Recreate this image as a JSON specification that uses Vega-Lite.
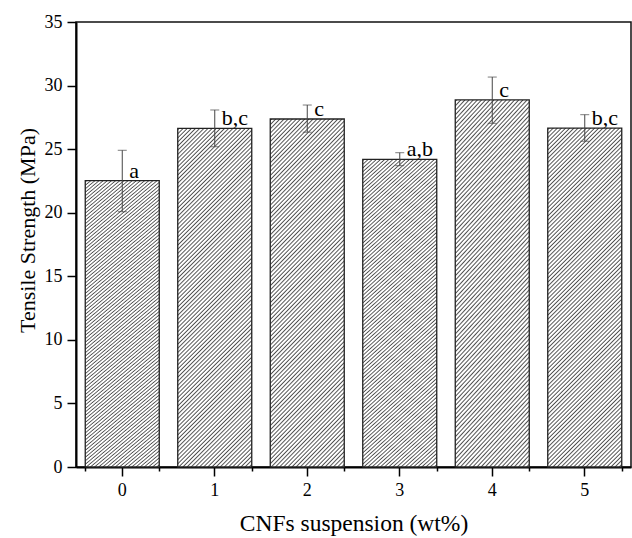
{
 "$schema": "https://vega.github.io/schema/vega-lite/v6.json",
 "width": 555, "height": 445,
 "autosize": {"type": "none"},
 "padding": {"left": 76, "top": 22, "right": 1, "bottom": 71},
 "config": {
  "view": {"stroke": "#111", "strokeWidth": 1.5},
  "axis": {"grid": false, "labelColor": "#000", "titleColor": "#000", "tickColor": "#000", "domainColor": "#000", "titleFontWeight": "normal"}
 },
 "data": {"values": [
  {"conc": "0", "mean": 22.52, "lo": 20.08, "hi": 24.91, "letter": "a"},
  {"conc": "1", "mean": 26.64, "lo": 25.19, "hi": 28.08, "letter": "b,c"},
  {"conc": "2", "mean": 27.37, "lo": 26.33, "hi": 28.47, "letter": "c"},
  {"conc": "3", "mean": 24.2, "lo": 23.7, "hi": 24.72, "letter": "a,b"},
  {"conc": "4", "mean": 28.87, "lo": 27.03, "hi": 30.67, "letter": "c"},
  {"conc": "5", "mean": 26.66, "lo": 25.62, "hi": 27.71, "letter": "b,c"}
 ]},
 "layer": [
  {
   "mark": {"type": "bar", "stroke": "#222", "strokeWidth": 1.3,
    "fill": {"gradient": "linear", "x1": 0, "y1": 0, "x2": 0.253, "y2": 1.163, "stops": [
{"offset":0,"color":"#fff"},{"offset":0.0035,"color":"#505050"},{"offset":0.0065,"color":"#fff"},
{"offset":0.01,"color":"#fff"},{"offset":0.0135,"color":"#505050"},{"offset":0.0165,"color":"#fff"},
{"offset":0.02,"color":"#fff"},{"offset":0.0235,"color":"#505050"},{"offset":0.0265,"color":"#fff"},
{"offset":0.03,"color":"#fff"},{"offset":0.0335,"color":"#505050"},{"offset":0.0365,"color":"#fff"},
{"offset":0.04,"color":"#fff"},{"offset":0.0435,"color":"#505050"},{"offset":0.0465,"color":"#fff"},
{"offset":0.05,"color":"#fff"},{"offset":0.0535,"color":"#505050"},{"offset":0.0565,"color":"#fff"},
{"offset":0.06,"color":"#fff"},{"offset":0.0635,"color":"#505050"},{"offset":0.0665,"color":"#fff"},
{"offset":0.07,"color":"#fff"},{"offset":0.0735,"color":"#505050"},{"offset":0.0765,"color":"#fff"},
{"offset":0.08,"color":"#fff"},{"offset":0.0835,"color":"#505050"},{"offset":0.0865,"color":"#fff"},
{"offset":0.09,"color":"#fff"},{"offset":0.0935,"color":"#505050"},{"offset":0.0965,"color":"#fff"},
{"offset":0.10,"color":"#fff"},{"offset":0.1035,"color":"#505050"},{"offset":0.1065,"color":"#fff"},
{"offset":0.11,"color":"#fff"},{"offset":0.1135,"color":"#505050"},{"offset":0.1165,"color":"#fff"},
{"offset":0.12,"color":"#fff"},{"offset":0.1235,"color":"#505050"},{"offset":0.1265,"color":"#fff"},
{"offset":0.13,"color":"#fff"},{"offset":0.1335,"color":"#505050"},{"offset":0.1365,"color":"#fff"},
{"offset":0.14,"color":"#fff"},{"offset":0.1435,"color":"#505050"},{"offset":0.1465,"color":"#fff"},
{"offset":0.15,"color":"#fff"},{"offset":0.1535,"color":"#505050"},{"offset":0.1565,"color":"#fff"},
{"offset":0.16,"color":"#fff"},{"offset":0.1635,"color":"#505050"},{"offset":0.1665,"color":"#fff"},
{"offset":0.17,"color":"#fff"},{"offset":0.1735,"color":"#505050"},{"offset":0.1765,"color":"#fff"},
{"offset":0.18,"color":"#fff"},{"offset":0.1835,"color":"#505050"},{"offset":0.1865,"color":"#fff"},
{"offset":0.19,"color":"#fff"},{"offset":0.1935,"color":"#505050"},{"offset":0.1965,"color":"#fff"},
{"offset":0.20,"color":"#fff"},{"offset":0.2035,"color":"#505050"},{"offset":0.2065,"color":"#fff"},
{"offset":0.21,"color":"#fff"},{"offset":0.2135,"color":"#505050"},{"offset":0.2165,"color":"#fff"},
{"offset":0.22,"color":"#fff"},{"offset":0.2235,"color":"#505050"},{"offset":0.2265,"color":"#fff"},
{"offset":0.23,"color":"#fff"},{"offset":0.2335,"color":"#505050"},{"offset":0.2365,"color":"#fff"},
{"offset":0.24,"color":"#fff"},{"offset":0.2435,"color":"#505050"},{"offset":0.2465,"color":"#fff"},
{"offset":0.25,"color":"#fff"},{"offset":0.2535,"color":"#505050"},{"offset":0.2565,"color":"#fff"},
{"offset":0.26,"color":"#fff"},{"offset":0.2635,"color":"#505050"},{"offset":0.2665,"color":"#fff"},
{"offset":0.27,"color":"#fff"},{"offset":0.2735,"color":"#505050"},{"offset":0.2765,"color":"#fff"},
{"offset":0.28,"color":"#fff"},{"offset":0.2835,"color":"#505050"},{"offset":0.2865,"color":"#fff"},
{"offset":0.29,"color":"#fff"},{"offset":0.2935,"color":"#505050"},{"offset":0.2965,"color":"#fff"},
{"offset":0.30,"color":"#fff"},{"offset":0.3035,"color":"#505050"},{"offset":0.3065,"color":"#fff"},
{"offset":0.31,"color":"#fff"},{"offset":0.3135,"color":"#505050"},{"offset":0.3165,"color":"#fff"},
{"offset":0.32,"color":"#fff"},{"offset":0.3235,"color":"#505050"},{"offset":0.3265,"color":"#fff"},
{"offset":0.33,"color":"#fff"},{"offset":0.3335,"color":"#505050"},{"offset":0.3365,"color":"#fff"},
{"offset":0.34,"color":"#fff"},{"offset":0.3435,"color":"#505050"},{"offset":0.3465,"color":"#fff"},
{"offset":0.35,"color":"#fff"},{"offset":0.3535,"color":"#505050"},{"offset":0.3565,"color":"#fff"},
{"offset":0.36,"color":"#fff"},{"offset":0.3635,"color":"#505050"},{"offset":0.3665,"color":"#fff"},
{"offset":0.37,"color":"#fff"},{"offset":0.3735,"color":"#505050"},{"offset":0.3765,"color":"#fff"},
{"offset":0.38,"color":"#fff"},{"offset":0.3835,"color":"#505050"},{"offset":0.3865,"color":"#fff"},
{"offset":0.39,"color":"#fff"},{"offset":0.3935,"color":"#505050"},{"offset":0.3965,"color":"#fff"},
{"offset":0.40,"color":"#fff"},{"offset":0.4035,"color":"#505050"},{"offset":0.4065,"color":"#fff"},
{"offset":0.41,"color":"#fff"},{"offset":0.4135,"color":"#505050"},{"offset":0.4165,"color":"#fff"},
{"offset":0.42,"color":"#fff"},{"offset":0.4235,"color":"#505050"},{"offset":0.4265,"color":"#fff"},
{"offset":0.43,"color":"#fff"},{"offset":0.4335,"color":"#505050"},{"offset":0.4365,"color":"#fff"},
{"offset":0.44,"color":"#fff"},{"offset":0.4435,"color":"#505050"},{"offset":0.4465,"color":"#fff"},
{"offset":0.45,"color":"#fff"},{"offset":0.4535,"color":"#505050"},{"offset":0.4565,"color":"#fff"},
{"offset":0.46,"color":"#fff"},{"offset":0.4635,"color":"#505050"},{"offset":0.4665,"color":"#fff"},
{"offset":0.47,"color":"#fff"},{"offset":0.4735,"color":"#505050"},{"offset":0.4765,"color":"#fff"},
{"offset":0.48,"color":"#fff"},{"offset":0.4835,"color":"#505050"},{"offset":0.4865,"color":"#fff"},
{"offset":0.49,"color":"#fff"},{"offset":0.4935,"color":"#505050"},{"offset":0.4965,"color":"#fff"},
{"offset":0.50,"color":"#fff"},{"offset":0.5035,"color":"#505050"},{"offset":0.5065,"color":"#fff"},
{"offset":0.51,"color":"#fff"},{"offset":0.5135,"color":"#505050"},{"offset":0.5165,"color":"#fff"},
{"offset":0.52,"color":"#fff"},{"offset":0.5235,"color":"#505050"},{"offset":0.5265,"color":"#fff"},
{"offset":0.53,"color":"#fff"},{"offset":0.5335,"color":"#505050"},{"offset":0.5365,"color":"#fff"},
{"offset":0.54,"color":"#fff"},{"offset":0.5435,"color":"#505050"},{"offset":0.5465,"color":"#fff"},
{"offset":0.55,"color":"#fff"},{"offset":0.5535,"color":"#505050"},{"offset":0.5565,"color":"#fff"},
{"offset":0.56,"color":"#fff"},{"offset":0.5635,"color":"#505050"},{"offset":0.5665,"color":"#fff"},
{"offset":0.57,"color":"#fff"},{"offset":0.5735,"color":"#505050"},{"offset":0.5765,"color":"#fff"},
{"offset":0.58,"color":"#fff"},{"offset":0.5835,"color":"#505050"},{"offset":0.5865,"color":"#fff"},
{"offset":0.59,"color":"#fff"},{"offset":0.5935,"color":"#505050"},{"offset":0.5965,"color":"#fff"},
{"offset":0.60,"color":"#fff"},{"offset":0.6035,"color":"#505050"},{"offset":0.6065,"color":"#fff"},
{"offset":0.61,"color":"#fff"},{"offset":0.6135,"color":"#505050"},{"offset":0.6165,"color":"#fff"},
{"offset":0.62,"color":"#fff"},{"offset":0.6235,"color":"#505050"},{"offset":0.6265,"color":"#fff"},
{"offset":0.63,"color":"#fff"},{"offset":0.6335,"color":"#505050"},{"offset":0.6365,"color":"#fff"},
{"offset":0.64,"color":"#fff"},{"offset":0.6435,"color":"#505050"},{"offset":0.6465,"color":"#fff"},
{"offset":0.65,"color":"#fff"},{"offset":0.6535,"color":"#505050"},{"offset":0.6565,"color":"#fff"},
{"offset":0.66,"color":"#fff"},{"offset":0.6635,"color":"#505050"},{"offset":0.6665,"color":"#fff"},
{"offset":0.67,"color":"#fff"},{"offset":0.6735,"color":"#505050"},{"offset":0.6765,"color":"#fff"},
{"offset":0.68,"color":"#fff"},{"offset":0.6835,"color":"#505050"},{"offset":0.6865,"color":"#fff"},
{"offset":0.69,"color":"#fff"},{"offset":0.6935,"color":"#505050"},{"offset":0.6965,"color":"#fff"},
{"offset":0.70,"color":"#fff"},{"offset":0.7035,"color":"#505050"},{"offset":0.7065,"color":"#fff"},
{"offset":0.71,"color":"#fff"},{"offset":0.7135,"color":"#505050"},{"offset":0.7165,"color":"#fff"},
{"offset":0.72,"color":"#fff"},{"offset":0.7235,"color":"#505050"},{"offset":0.7265,"color":"#fff"},
{"offset":0.73,"color":"#fff"},{"offset":0.7335,"color":"#505050"},{"offset":0.7365,"color":"#fff"},
{"offset":0.74,"color":"#fff"},{"offset":0.7435,"color":"#505050"},{"offset":0.7465,"color":"#fff"},
{"offset":0.75,"color":"#fff"},{"offset":0.7535,"color":"#505050"},{"offset":0.7565,"color":"#fff"},
{"offset":0.76,"color":"#fff"},{"offset":0.7635,"color":"#505050"},{"offset":0.7665,"color":"#fff"},
{"offset":0.77,"color":"#fff"},{"offset":0.7735,"color":"#505050"},{"offset":0.7765,"color":"#fff"},
{"offset":0.78,"color":"#fff"},{"offset":0.7835,"color":"#505050"},{"offset":0.7865,"color":"#fff"},
{"offset":0.79,"color":"#fff"},{"offset":0.7935,"color":"#505050"},{"offset":0.7965,"color":"#fff"},
{"offset":0.80,"color":"#fff"},{"offset":0.8035,"color":"#505050"},{"offset":0.8065,"color":"#fff"},
{"offset":0.81,"color":"#fff"},{"offset":0.8135,"color":"#505050"},{"offset":0.8165,"color":"#fff"},
{"offset":0.82,"color":"#fff"},{"offset":0.8235,"color":"#505050"},{"offset":0.8265,"color":"#fff"},
{"offset":0.83,"color":"#fff"},{"offset":0.8335,"color":"#505050"},{"offset":0.8365,"color":"#fff"},
{"offset":0.84,"color":"#fff"},{"offset":0.8435,"color":"#505050"},{"offset":0.8465,"color":"#fff"},
{"offset":0.85,"color":"#fff"},{"offset":0.8535,"color":"#505050"},{"offset":0.8565,"color":"#fff"},
{"offset":0.86,"color":"#fff"},{"offset":0.8635,"color":"#505050"},{"offset":0.8665,"color":"#fff"},
{"offset":0.87,"color":"#fff"},{"offset":0.8735,"color":"#505050"},{"offset":0.8765,"color":"#fff"},
{"offset":0.88,"color":"#fff"},{"offset":0.8835,"color":"#505050"},{"offset":0.8865,"color":"#fff"},
{"offset":0.89,"color":"#fff"},{"offset":0.8935,"color":"#505050"},{"offset":0.8965,"color":"#fff"},
{"offset":0.90,"color":"#fff"},{"offset":0.9035,"color":"#505050"},{"offset":0.9065,"color":"#fff"},
{"offset":0.91,"color":"#fff"},{"offset":0.9135,"color":"#505050"},{"offset":0.9165,"color":"#fff"},
{"offset":0.92,"color":"#fff"},{"offset":0.9235,"color":"#505050"},{"offset":0.9265,"color":"#fff"},
{"offset":0.93,"color":"#fff"},{"offset":0.9335,"color":"#505050"},{"offset":0.9365,"color":"#fff"},
{"offset":0.94,"color":"#fff"},{"offset":0.9435,"color":"#505050"},{"offset":0.9465,"color":"#fff"},
{"offset":0.95,"color":"#fff"},{"offset":0.9535,"color":"#505050"},{"offset":0.9565,"color":"#fff"},
{"offset":0.96,"color":"#fff"},{"offset":0.9635,"color":"#505050"},{"offset":0.9665,"color":"#fff"},
{"offset":0.97,"color":"#fff"},{"offset":0.9735,"color":"#505050"},{"offset":0.9765,"color":"#fff"},
{"offset":0.98,"color":"#fff"},{"offset":0.9835,"color":"#505050"},{"offset":0.9865,"color":"#fff"},
{"offset":0.99,"color":"#fff"},{"offset":0.9935,"color":"#505050"},{"offset":0.9965,"color":"#fff"},
{"offset":1,"color":"#fff"}
    ]}},
   "encoding": {
    "x": {"field": "conc", "type": "nominal", "scale": {"paddingInner": 0.2, "paddingOuter": 0.1},
     "axis": {"orient": "bottom", "title": "CNFs suspension (wt%)", "labelFont": "Liberation Serif", "titleFont": "Liberation Serif", "labelAngle": 0, "labelFontSize": 18, "titleFontSize": 23.5, "titleFontWeight": "normal", "tickSize": 9, "tickWidth": 1.5, "domainWidth": 2, "labelPadding": 5, "titlePadding": 12}},
    "y": {"field": "mean", "type": "quantitative", "title": "Tensile Strength (MPa)", "scale": {"domain": [0, 35], "nice": false, "zero": true},
     "axis": {"orient": "left", "labelFont": "Liberation Serif", "titleFont": "Liberation Serif", "values": [0, 2.5, 5, 7.5, 10, 12.5, 15, 17.5, 20, 22.5, 25, 27.5, 30, 32.5, 35],
      "labelExpr": "datum.value % 5 === 0 ? datum.label : ''",
      "tickSize": {"condition": {"test": "datum.value % 5 !== 0", "value": 5}, "value": 9},
      "encode": {"labels": {"update": {"font": {"value": "Liberation Serif"}}}, "title": {"update": {"font": {"value": "Liberation Serif"}}}},
      "labelFontSize": 18, "titleFontSize": 22, "titleFontWeight": "normal", "tickWidth": 1.5, "domainWidth": 2, "labelPadding": 5, "titlePadding": 5, "titleY": 208}}
   }
  },
  {
   "mark": {"type": "errorbar", "ticks": {"size": 9, "color": "#444", "thickness": 1}, "rule": {"color": "#444", "strokeWidth": 1}},
   "encoding": {
    "x": {"field": "conc", "type": "nominal", "axis": null},
    "y": {"field": "lo", "type": "quantitative", "title": "Tensile Strength (MPa)"},
    "y2": {"field": "hi"}
   }
  },
  {
   "mark": {"type": "text", "align": "left", "baseline": "alphabetic", "dx": 7, "dy": -3, "fontSize": 22, "font": "Liberation Serif", "color": "#000"},
   "encoding": {
    "x": {"field": "conc", "type": "nominal", "axis": null},
    "y": {"field": "mean", "type": "quantitative", "title": "Tensile Strength (MPa)"},
    "text": {"field": "letter"}
   }
  },
  {
   "mark": {"type": "tick", "opacity": 0},
   "encoding": {
    "x": {"field": "conc", "type": "nominal", "axis": {"orient": "bottom", "tickBand": "extent", "labels": false, "domain": false, "tickSize": 4, "tickWidth": 1.5, "title": null}},
    "y": {"field": "mean", "type": "quantitative", "title": "Tensile Strength (MPa)"}
   }
  }
 ],
 "resolve": {"axis": {"x": "independent"}}
}
